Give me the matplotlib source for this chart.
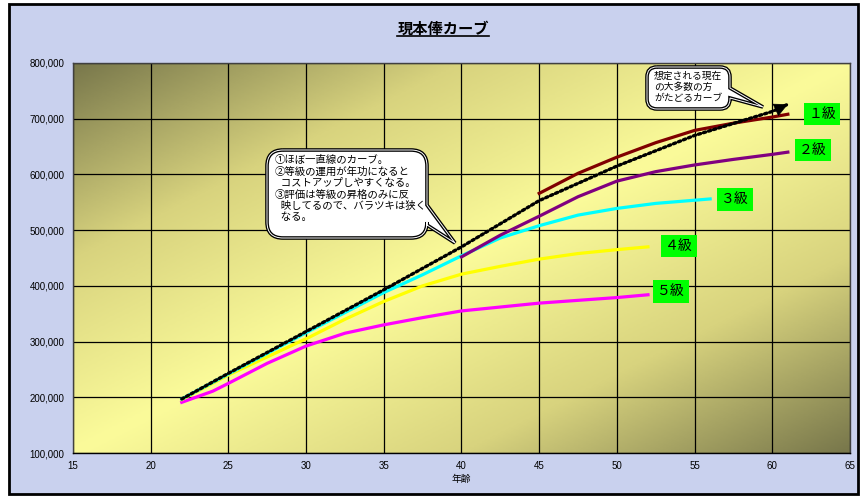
import numpy as np
import matplotlib
matplotlib.use('Agg')
from matplotlib import pyplot as plt
from matplotlib.colors import LinearSegmentedColormap
from matplotlib.patches import Rectangle, PathPatch
from matplotlib.path import Path
from matplotlib.lines import Line2D
from matplotlib.ticker import FuncFormatter
from matplotlib.transforms import Affine2D

plt.rcParams['font.family'] = ['Liberation Sans', 'Noto Sans CJK JP', 'DejaVu Sans']

# 想定カーブ（点線）
age_main = [22, 25, 30, 35, 40, 45, 50, 55, 60, 61]
pay_main = [197000, 243000, 318000, 393000, 470000, 553000, 615000, 670000, 713000, 726000]

# 等級別カーブ
age_g1 = [45, 47.5, 50, 52.5, 55, 57.5, 60, 61]
pay_g1 = [566000, 602000, 631000, 657000, 679000, 692000, 703000, 708000]
age_g2 = [40, 42.5, 45, 47.5, 50, 52.5, 55, 57.5, 60, 61]
pay_g2 = [452000, 491000, 525000, 560000, 588000, 605000, 617000, 627000, 636000, 640000]
age_g3 = [22, 25, 30, 35, 37.5, 40, 42.5, 45, 47.5, 50, 52.5, 56]
pay_g3 = [197000, 242000, 316000, 388000, 420000, 454000, 486000, 508000, 527000, 539000, 548000, 556000]
age_g4 = [22, 25, 30, 32.5, 35, 37.5, 40, 42.5, 45, 47.5, 50, 52]
pay_g4 = [196000, 240000, 305000, 340000, 372000, 400000, 421000, 435000, 448000, 458000, 465000, 470000]
age_g5 = [22, 24, 25, 27.5, 30, 32.5, 35, 37.5, 40, 42.5, 45, 50, 52]
pay_g5 = [191000, 211000, 225000, 261000, 292000, 315000, 330000, 343000, 355000, 362000, 369000, 379000, 384000]

grade_labels = ['１級', '２級', '３級', '４級', '５級']
label_pos = [(63.2, 708000), (62.6, 644000), (57.6, 555000), (54.0, 472000), (53.5, 390000)]

note_main = ('①ほぼ一直線のカーブ。\n'
             '②等級の運用が年功になると\n'
             '  コストアップしやすくなる。\n'
             '③評価は等級の昇格のみに反\n'
             '  映してるので、バラツキは狭く\n'
             '  なる。')
note_curve = '想定される現在\nの大多数の方\nがたどるカーブ'

fig = plt.figure(figsize=(8.62, 4.98), dpi=100)
fig.patch.set_facecolor('white')
fig.patches.append(Rectangle((9 / 862, 4 / 498), 849 / 862, 490 / 498,
                             transform=fig.transFigure, facecolor='#c9d1ee',
                             edgecolor='black', linewidth=2, zorder=-10))

ax = fig.add_axes([73 / 862, 45 / 498, 777 / 862, 390 / 498])
ax.set_xlim(15, 65)
ax.set_ylim(100000, 800000)

# 背景グラデーション
gx, gy = np.meshgrid(np.linspace(0, 1, 300), np.linspace(0, 1, 200))
shade = np.abs(gx - gy)
cmap = LinearSegmentedColormap.from_list('bg', ['#fbfb9a', '#d8d37e', '#78774b'])
ax.imshow(shade, extent=(15, 65, 100000, 800000), origin='lower', aspect='auto',
          cmap=cmap, vmin=0, vmax=1, zorder=0)

ax.set_xticks(np.arange(15, 66, 5))
ax.set_yticks(np.arange(100000, 800001, 100000))
ax.grid(True, color='black', linewidth=0.9, zorder=1)
ax.yaxis.set_major_formatter(FuncFormatter(lambda v, p: f'{int(v):,}'))
ax.tick_params(length=0, labelsize=7, pad=6)
for s in ax.spines.values():
    s.set_color('#404040')
    s.set_linewidth(1)
ax.spines['bottom'].set_color('black')
ax.set_xlabel('年齢', fontsize=7, labelpad=2)

lw = 2.3
ax.plot(age_g5, pay_g5, color='#ff00ff', lw=lw, zorder=3)
ax.plot(age_g4, pay_g4, color='#ffff00', lw=lw, zorder=3)
ax.plot(age_g3, pay_g3, color='#00ffff', lw=lw, zorder=3)
ax.plot(age_g2, pay_g2, color='#800080', lw=lw, zorder=3)
ax.plot(age_g1, pay_g1, color='#800000', lw=lw, zorder=3)
ax.plot(age_main, pay_main, color='black', lw=2.4, linestyle=(0, (0.7, 0.9)),
        dash_capstyle='round', zorder=4)
ax.annotate('', xy=(age_main[-1], pay_main[-1]), xytext=(age_main[-2], pay_main[-2]),
            arrowprops=dict(arrowstyle='-|>,head_length=0.9,head_width=0.45',
                            color='black', lw=0.5, shrinkA=0, shrinkB=0), zorder=5)

for lab, (lx, ly) in zip(grade_labels, label_pos):
    ax.text(lx, ly, lab, fontsize=10, ha='center', va='center', zorder=6,
            bbox=dict(boxstyle='square,pad=0.3', fc='#00ff00', ec='none'))

# 吹き出し（画像ピクセル座標）
px = Affine2D().scale(1 / 862, -1 / 498).translate(0, 1) + fig.transFigure


def bubble(x0, y0, x1, y1, r, b1, b2, tip):
    verts = [(x0 + r, y0), (x1 - r, y0), (x1, y0), (x1, y0 + r),
             (x1, b1), tip, (x1, b2), (x1, y1 - r), (x1, y1), (x1 - r, y1),
             (x0 + r, y1), (x0, y1), (x0, y1 - r), (x0, y0 + r), (x0, y0), (x0 + r, y0)]
    codes = [Path.MOVETO, Path.LINETO, Path.CURVE3, Path.CURVE3,
             Path.LINETO, Path.LINETO, Path.LINETO, Path.LINETO, Path.CURVE3, Path.CURVE3,
             Path.LINETO, Path.CURVE3, Path.CURVE3, Path.LINETO, Path.CURVE3, Path.CURVE3]
    path = Path(verts, codes)
    fig.patches.append(PathPatch(path, transform=px, fc='white', ec='black', lw=2.6, zorder=20))
    fig.patches.append(PathPatch(path, transform=px, fc='none', ec='white', lw=0.7, zorder=21))


bubble(267, 150, 427, 238, 16, 205, 225, (455, 243))
fig.text(275 / 862, 1 - 155 / 498, note_main, fontsize=7.5, ha='left', va='top',
         linespacing=1.17, zorder=22)
bubble(647, 67, 730, 109, 10, 88, 98, (763, 107))
fig.text(654 / 862, 1 - 71 / 498, note_curve, fontsize=7, ha='left', va='top',
         linespacing=1.12, zorder=22)

title = fig.text(443 / 862, 1 - 30 / 498, '現本俸カーブ', fontsize=11, fontweight='bold',
                 ha='center', va='center')
fig.canvas.draw()
bb = title.get_window_extent().transformed(fig.transFigure.inverted())
fig.lines.append(Line2D([bb.x0, bb.x1], [bb.y0 + 0.002, bb.y0 + 0.002],
                        transform=fig.transFigure, color='black', lw=1.2))

fig.savefig('out.png', dpi=100)
